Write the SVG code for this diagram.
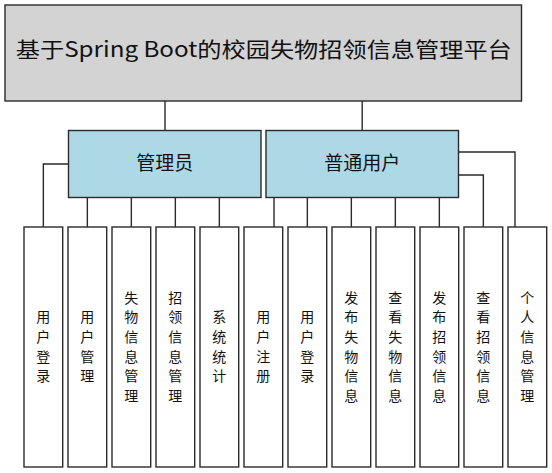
<svg xmlns="http://www.w3.org/2000/svg" width="552" height="473" viewBox="0 0 552 473">
<style>
  .box { stroke: #2a2a2a; stroke-width: 1.4; }
  .top { fill: #d3d3d3; }
  .mid { fill: #add8e6; }
  .leaf { fill: #ffffff; }
  .conn { fill: none; stroke: #2a2a2a; stroke-width: 1.4; }
  text { font-family: "Noto Sans CJK SC", "Microsoft YaHei", sans-serif; fill: #111; text-anchor: middle; }
  .t1 { font-size: 21px; }
  .t2 { font-size: 19px; }
  .t3 { font-size: 14px; }
</style>
<rect width="552" height="473" fill="#ffffff"/>
<g id="connectors">
  <line class="conn" x1="165" y1="101" x2="165" y2="130.5"/>
  <line class="conn" x1="362.2" y1="101" x2="362.2" y2="130.5"/>
  <polyline class="conn" points="68.5,164 43.35,164 43.35,227"/>
  <line class="conn" x1="87.35" y1="197.5" x2="87.35" y2="227"/>
  <line class="conn" x1="131.35" y1="197.5" x2="131.35" y2="227"/>
  <line class="conn" x1="175.35" y1="197.5" x2="175.35" y2="227"/>
  <line class="conn" x1="219.35" y1="197.5" x2="219.35" y2="227"/>
  <line class="conn" x1="274" y1="197.5" x2="274" y2="227"/>
  <line class="conn" x1="307.35" y1="197.5" x2="307.35" y2="227"/>
  <line class="conn" x1="351.35" y1="197.5" x2="351.35" y2="227"/>
  <line class="conn" x1="395.35" y1="197.5" x2="395.35" y2="227"/>
  <line class="conn" x1="439.35" y1="197.5" x2="439.35" y2="227"/>
  <polyline class="conn" points="458.5,175 483.35,175 483.35,227"/>
  <polyline class="conn" points="458.5,152 515,152 515,227"/>
</g>
<g id="root">
  <rect class="box top" x="5" y="5" width="516.5" height="96"/>
  <text class="t1" x="263.8" y="57" textLength="496" lengthAdjust="spacingAndGlyphs">基于Spring Boot的校园失物招领信息管理平台</text>
</g>
<g id="admin">
  <rect class="box mid" x="68.5" y="130.5" width="192.5" height="67"/>
  <text class="t2" x="164.7" y="169.7">管理员</text>
</g>
<g id="user">
  <rect class="box mid" x="266" y="130.5" width="192.5" height="67"/>
  <text class="t2" x="362.2" y="169.7">普通用户</text>
</g>
<g id="leaf1">
  <rect class="box leaf" x="24" y="227" width="38.7" height="240"/>
  <text class="t3"><tspan x="43.35" y="322.2">用</tspan><tspan x="43.35" y="341.9">户</tspan><tspan x="43.35" y="361.6">登</tspan><tspan x="43.35" y="381.3">录</tspan></text>
</g>
<g id="leaf2">
  <rect class="box leaf" x="68" y="227" width="38.7" height="240"/>
  <text class="t3"><tspan x="87.35" y="322.2">用</tspan><tspan x="87.35" y="341.9">户</tspan><tspan x="87.35" y="361.6">管</tspan><tspan x="87.35" y="381.3">理</tspan></text>
</g>
<g id="leaf3">
  <rect class="box leaf" x="112" y="227" width="38.7" height="240"/>
  <text class="t3"><tspan x="131.35" y="302.5">失</tspan><tspan x="131.35" y="322.2">物</tspan><tspan x="131.35" y="341.9">信</tspan><tspan x="131.35" y="361.6">息</tspan><tspan x="131.35" y="381.3">管</tspan><tspan x="131.35" y="401">理</tspan></text>
</g>
<g id="leaf4">
  <rect class="box leaf" x="156" y="227" width="38.7" height="240"/>
  <text class="t3"><tspan x="175.35" y="302.5">招</tspan><tspan x="175.35" y="322.2">领</tspan><tspan x="175.35" y="341.9">信</tspan><tspan x="175.35" y="361.6">息</tspan><tspan x="175.35" y="381.3">管</tspan><tspan x="175.35" y="401">理</tspan></text>
</g>
<g id="leaf5">
  <rect class="box leaf" x="200" y="227" width="38.7" height="240"/>
  <text class="t3"><tspan x="219.35" y="322.2">系</tspan><tspan x="219.35" y="341.9">统</tspan><tspan x="219.35" y="361.6">统</tspan><tspan x="219.35" y="381.3">计</tspan></text>
</g>
<g id="leaf6">
  <rect class="box leaf" x="244" y="227" width="38.7" height="240"/>
  <text class="t3"><tspan x="263.35" y="322.2">用</tspan><tspan x="263.35" y="341.9">户</tspan><tspan x="263.35" y="361.6">注</tspan><tspan x="263.35" y="381.3">册</tspan></text>
</g>
<g id="leaf7">
  <rect class="box leaf" x="288" y="227" width="38.7" height="240"/>
  <text class="t3"><tspan x="307.35" y="322.2">用</tspan><tspan x="307.35" y="341.9">户</tspan><tspan x="307.35" y="361.6">登</tspan><tspan x="307.35" y="381.3">录</tspan></text>
</g>
<g id="leaf8">
  <rect class="box leaf" x="332" y="227" width="38.7" height="240"/>
  <text class="t3"><tspan x="351.35" y="302.5">发</tspan><tspan x="351.35" y="322.2">布</tspan><tspan x="351.35" y="341.9">失</tspan><tspan x="351.35" y="361.6">物</tspan><tspan x="351.35" y="381.3">信</tspan><tspan x="351.35" y="401">息</tspan></text>
</g>
<g id="leaf9">
  <rect class="box leaf" x="376" y="227" width="38.7" height="240"/>
  <text class="t3"><tspan x="395.35" y="302.5">查</tspan><tspan x="395.35" y="322.2">看</tspan><tspan x="395.35" y="341.9">失</tspan><tspan x="395.35" y="361.6">物</tspan><tspan x="395.35" y="381.3">信</tspan><tspan x="395.35" y="401">息</tspan></text>
</g>
<g id="leaf10">
  <rect class="box leaf" x="420" y="227" width="38.7" height="240"/>
  <text class="t3"><tspan x="439.35" y="302.5">发</tspan><tspan x="439.35" y="322.2">布</tspan><tspan x="439.35" y="341.9">招</tspan><tspan x="439.35" y="361.6">领</tspan><tspan x="439.35" y="381.3">信</tspan><tspan x="439.35" y="401">息</tspan></text>
</g>
<g id="leaf11">
  <rect class="box leaf" x="464" y="227" width="38.7" height="240"/>
  <text class="t3"><tspan x="483.35" y="302.5">查</tspan><tspan x="483.35" y="322.2">看</tspan><tspan x="483.35" y="341.9">招</tspan><tspan x="483.35" y="361.6">领</tspan><tspan x="483.35" y="381.3">信</tspan><tspan x="483.35" y="401">息</tspan></text>
</g>
<g id="leaf12">
  <rect class="box leaf" x="508" y="227" width="38.7" height="240"/>
  <text class="t3"><tspan x="527.35" y="302.5">个</tspan><tspan x="527.35" y="322.2">人</tspan><tspan x="527.35" y="341.9">信</tspan><tspan x="527.35" y="361.6">息</tspan><tspan x="527.35" y="381.3">管</tspan><tspan x="527.35" y="401">理</tspan></text>
</g>
</svg>
